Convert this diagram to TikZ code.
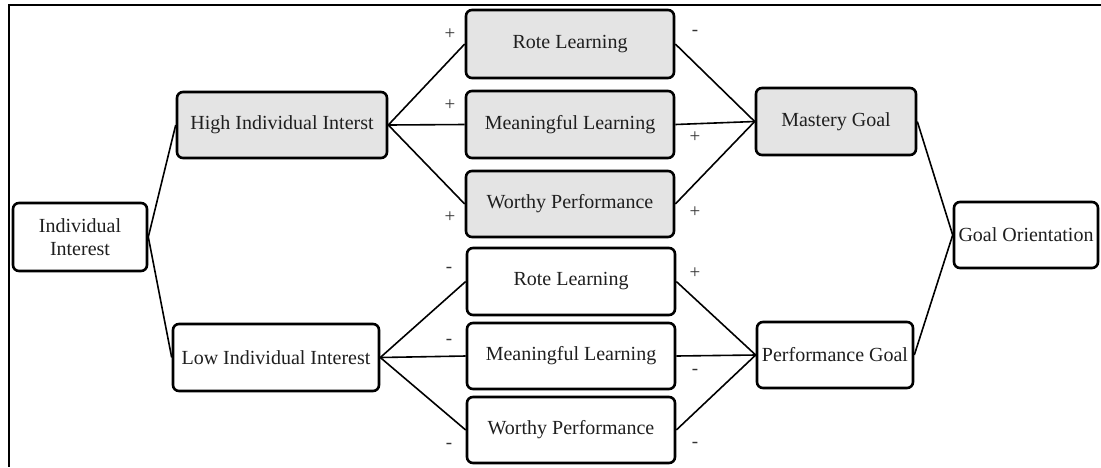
\documentclass[tikz,border=0pt]{standalone}
\usepackage{fontspec}
\setmainfont{Liberation Serif}
\definecolor{boxgray}{RGB}{228,228,228}
\begin{document}
\begin{tikzpicture}[x=1pt,y=-1pt,
  box/.style={draw=black, line width=2.6pt, rounded corners=6pt, fill=white,
    minimum width=#1, inner sep=0pt, font=\fontsize{20}{22.5}\selectfont, text=black!88},
  hl/.style={fill=boxgray},
  link/.style={line width=1.6pt},
  sign/.style={inner sep=0pt, font=\fontsize{19}{20}\selectfont, text=black!80}]
\useasboundingbox (0,0) rectangle (1101,467);
% outer frame (top and left edges)
\draw[line width=1.4pt] (1101,5) -- (9,5) -- (9,467);

% left column
\node[box=134pt, minimum height=68pt, align=center] (ii) at (80,237) {Individual\\Interest};
\node[box=210pt, hl, minimum height=66pt] (hi) at (282,125) {High Individual Interst};
\node[box=206pt, minimum height=67pt] (lo) at (276,357.5) {Low Individual Interest};

% middle column, high-interest group
\node[box=208pt, hl, minimum height=68pt] (r1) at (570,44) {Rote Learning};
\node[box=208pt, hl, minimum height=67pt] (m1) at (570,124.5) {Meaningful Learning};
\node[box=208pt, hl, minimum height=66pt] (w1) at (570,204) {Worthy Performance};

% middle column, low-interest group
\node[box=208pt, minimum height=67pt] (r2) at (571,281.5) {Rote Learning};
\node[box=208pt, minimum height=66pt] (m2) at (571,356) {Meaningful Learning};
\node[box=208pt, minimum height=66pt] (w2) at (571,430) {Worthy Performance};

% goals
\node[box=160pt, hl, minimum height=67pt] (mg) at (836,121.5) {Mastery Goal};
\node[box=156pt, minimum height=66pt] (pg) at (835,355) {Performance Goal};
\node[box=144pt, minimum height=66pt] (go) at (1026,235) {Goal Orientation};

% connectors
\draw[link] (ii.east) -- (hi.west);
\draw[link] (ii.east) -- (lo.west);
\foreach \m in {r1,m1,w1} {
  \draw[link] (hi.east) -- (\m.west);
  \draw[link] (\m.east) -- (mg.west);
}
\foreach \m in {r2,m2,w2} {
  \draw[link] (lo.east) -- (\m.west);
  \draw[link] (\m.east) -- (pg.west);
}
\draw[link] (mg.east) -- (go.west);
\draw[link] (pg.east) -- (go.west);

% signs on the paths
\node[sign] (s1) at (450,34) {+};
\node[sign] (s2) at (450,105) {+};
\node[sign] (s3) at (450,217) {+};
\node[sign] (s4) at (695,33) {-};
\node[sign] (s5) at (695,137) {+};
\node[sign] (s6) at (695,212) {+};
\node[sign] (s7) at (449,270) {-};
\node[sign] (s8) at (449,342) {-};
\node[sign] (s9) at (449,446) {-};
\node[sign] (s10) at (695,273) {+};
\node[sign] (s11) at (695,372) {-};
\node[sign] (s12) at (695,445) {-};
\end{tikzpicture}
\end{document}
